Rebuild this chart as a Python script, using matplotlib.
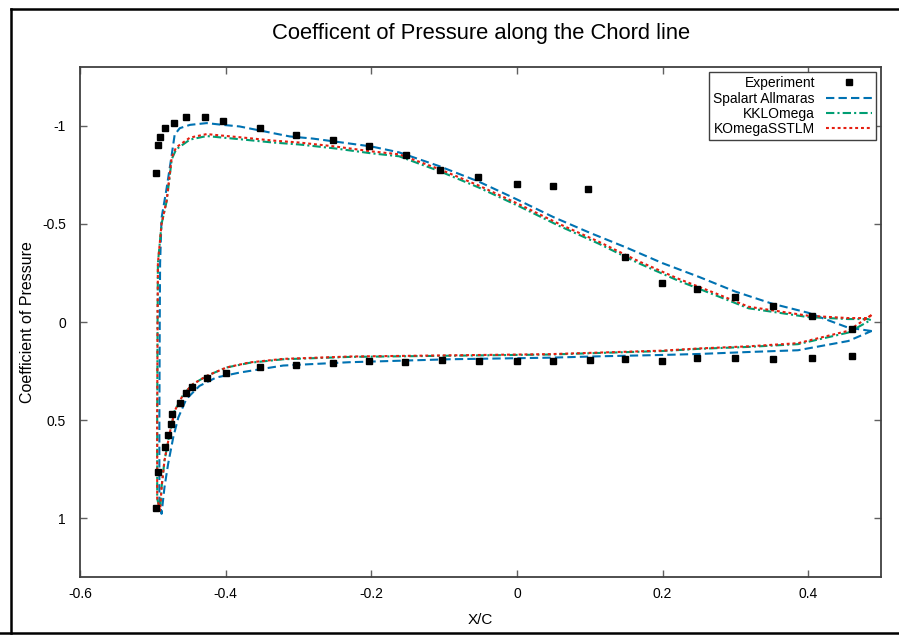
import matplotlib
matplotlib.use("Agg")
import matplotlib.pyplot as plt
from matplotlib.lines import Line2D

plt.rcParams['font.family'] = ['Liberation Sans', 'DejaVu Sans']

# Experimental pressure coefficients (upper and lower surface)
exp_upper_x = [-0.495, -0.493, -0.490, -0.483, -0.471, -0.455, -0.429, -0.404, -0.353, -0.303,
               -0.253, -0.203, -0.152, -0.105, -0.053, 0.0, 0.05, 0.098, 0.148, 0.199,
               0.248, 0.30, 0.352, 0.405, 0.46]
exp_upper_cp = [-0.76, -0.90, -0.943, -0.988, -1.017, -1.043, -1.043, -1.027, -0.988, -0.953,
                -0.926, -0.895, -0.849, -0.777, -0.738, -0.705, -0.692, -0.68, -0.33, -0.20,
                -0.17, -0.13, -0.083, -0.033, 0.036]
exp_lower_x = [-0.496, -0.493, -0.483, -0.479, -0.475, -0.474, -0.463, -0.455, -0.446, -0.426,
               -0.400, -0.353, -0.304, -0.253, -0.203, -0.153, -0.103, -0.052, 0.0, 0.05,
               0.10, 0.148, 0.199, 0.248, 0.30, 0.352, 0.405, 0.46]
exp_lower_cp = [0.948, 0.767, 0.639, 0.575, 0.520, 0.469, 0.414, 0.360, 0.331, 0.286,
                0.261, 0.229, 0.219, 0.209, 0.198, 0.203, 0.193, 0.198, 0.198, 0.198,
                0.193, 0.188, 0.198, 0.183, 0.183, 0.188, 0.185, 0.173]

# Spalart Allmaras: trailing edge -> upper surface -> leading edge -> lower surface -> trailing edge
sa_x = [0.487, 0.455, 0.40, 0.35, 0.30, 0.25, 0.20, 0.15, 0.10, 0.05, 0.0, -0.052, -0.107,
        -0.162, -0.20, -0.25, -0.28, -0.312, -0.335, -0.358, -0.381, -0.404, -0.426, -0.449,
        -0.463, -0.470, -0.474, -0.481, -0.488, -0.490, -0.4905, -0.491, -0.491, -0.488,
        -0.484, -0.479, -0.472, -0.465, -0.454, -0.436, -0.413, -0.381, -0.353, -0.321,
        -0.23, -0.093, 0.044, 0.112, 0.20, 0.25, 0.318, 0.386, 0.455, 0.487]
sa_cp = [0.046, 0.029, -0.047, -0.094, -0.155, -0.23, -0.30, -0.38, -0.455, -0.535, -0.625,
         -0.715, -0.795, -0.865, -0.895, -0.92, -0.935, -0.946, -0.963, -0.98, -0.997, -1.005,
         -1.014, -1.005, -0.988, -0.955, -0.853, -0.683, -0.53, -0.3, 0.0, 0.5, 0.90, 0.978,
         0.843, 0.724, 0.589, 0.487, 0.393, 0.326, 0.283, 0.258, 0.241, 0.222,
         0.205, 0.19, 0.182, 0.175, 0.168, 0.163, 0.153, 0.144, 0.097, 0.046]

# k-kl-omega transition model
kk_x = [0.486, 0.482, 0.455, 0.40, 0.318, 0.277, 0.222, 0.167, 0.112, 0.058, 0.003, -0.052,
        -0.107, -0.162, -0.20, -0.25, -0.299, -0.335, -0.381, -0.404, -0.426, -0.449, -0.468,
        -0.474, -0.481, -0.488, -0.493, -0.4935, -0.494, -0.494, -0.490, -0.488, -0.484,
        -0.477, -0.470, -0.458, -0.445, -0.426, -0.399, -0.367, -0.321, -0.23, -0.093, 0.044,
        0.112, 0.20, 0.249, 0.318, 0.386, 0.455, 0.486]
kk_cp = [-0.01, -0.015, -0.015, -0.025, -0.07, -0.13, -0.21, -0.30, -0.40, -0.49, -0.59,
         -0.685, -0.77, -0.845, -0.86, -0.885, -0.905, -0.915, -0.932, -0.94, -0.948, -0.93,
         -0.88, -0.83, -0.615, -0.5, -0.3, 0.0, 0.5, 0.9, 0.961, 0.843, 0.707,
         0.571, 0.453, 0.368, 0.317, 0.275, 0.232, 0.208, 0.19, 0.178, 0.172, 0.166,
         0.158, 0.148, 0.137, 0.127, 0.113, 0.054, -0.01]

# k-omega SST with Langtry-Menter transition
sst_x = [0.487, 0.482, 0.455, 0.40, 0.318, 0.277, 0.222, 0.167, 0.112, 0.058, 0.003, -0.052,
         -0.107, -0.162, -0.20, -0.25, -0.299, -0.335, -0.381, -0.404, -0.426, -0.449, -0.468,
         -0.474, -0.481, -0.488, -0.493, -0.4935, -0.494, -0.494, -0.490, -0.488, -0.484,
         -0.477, -0.470, -0.458, -0.445, -0.426, -0.399, -0.367, -0.321, -0.23, -0.093, 0.044,
         0.112, 0.20, 0.249, 0.318, 0.386, 0.455, 0.487]
sst_cp = [-0.036, -0.02, -0.02, -0.032, -0.078, -0.14, -0.22, -0.31, -0.41, -0.50, -0.60,
          -0.695, -0.78, -0.855, -0.87, -0.895, -0.915, -0.925, -0.942, -0.95, -0.958, -0.94,
          -0.89, -0.84, -0.62, -0.5, -0.3, 0.0, 0.5, 0.9, 0.961, 0.843, 0.707,
          0.571, 0.453, 0.368, 0.317, 0.275, 0.232, 0.206, 0.188, 0.176, 0.170, 0.164,
          0.156, 0.146, 0.135, 0.124, 0.108, 0.045, -0.036]

x_ticks = [-0.6, -0.4, -0.2, 0, 0.2, 0.4]
x_tick_labels = ['-0.6', '-0.4', '-0.2', '0', '0.2', '0.4']
y_ticks = [-1, -0.5, 0, 0.5, 1]
y_tick_labels = ['-1', '-0.5', '0', '0.5', '1']

fig = plt.figure(figsize=(8.99, 6.35), dpi=100)
ax = fig.add_axes([80 / 899, 1 - 577 / 635, (881 - 80) / 899, (577 - 67) / 635])

ax.plot(exp_upper_x + exp_lower_x, exp_upper_cp + exp_lower_cp, linestyle='none',
        marker='s', markersize=5, color='black', label='Experiment', zorder=5)
ax.plot(sa_x, sa_cp, color='#0072b2', lw=1.5, dashes=(4, 2), label='Spalart Allmaras')
ax.plot(kk_x, kk_cp, color='#009e73', lw=1.5, dashes=(4, 1.5, 1, 1.5), label='KKLOmega')
ax.plot(sst_x, sst_cp, color='#e51e10', lw=1.5, dashes=(1.4, 1.4), label='KOmegaSSTLM')

ax.set_xlim(-0.6, 0.5)
ax.set_ylim(1.3, -1.3)
ax.set_xticks(x_ticks)
ax.set_xticklabels(x_tick_labels, fontsize=10)
ax.set_yticks(y_ticks)
ax.set_yticklabels(y_tick_labels, fontsize=10)
ax.tick_params(direction='in', length=5, width=1, color='#606060', top=True, right=True)
ax.tick_params(axis='x', pad=7)
ax.tick_params(axis='y', pad=10)
for s in ax.spines.values():
    s.set_color('#404040')
    s.set_linewidth(1.3)

ax.set_xlabel('X/C', fontsize=11, va='center')
ax.xaxis.set_label_coords(0.5, -(620 - 577) / 510)
ax.set_ylabel('Coefficient of Pressure', fontsize=11.5, va='center')
ax.yaxis.set_label_coords(-(80 - 27) / 801, 0.5)
fig.text(481 / 899, 1 - 33 / 635, 'Coefficent of Pressure along the Chord line',
         ha='center', va='center', fontsize=15.8)

leg = ax.legend(loc='upper right', bbox_to_anchor=(1 - 5 / 801, 1 - 5 / 510),
                borderaxespad=0, markerfirst=False, fontsize=10, handlelength=3.3,
                handletextpad=0.8, labelspacing=0.1, borderpad=0.3, fancybox=False,
                framealpha=1, edgecolor='#404040')
leg.get_frame().set_linewidth(1.0)

# outer frame
for xs, ys in [([11 / 899, 11 / 899], [1 - 9 / 635, 1 - 633 / 635]),
               ([11 / 899, 1.0], [1 - 9 / 635, 1 - 9 / 635]),
               ([0.0, 1.0], [1 - 633 / 635, 1 - 633 / 635])]:
    fig.add_artist(Line2D(xs, ys, color='black', lw=1.8, transform=fig.transFigure))

fig.savefig('out.png', dpi=100)
